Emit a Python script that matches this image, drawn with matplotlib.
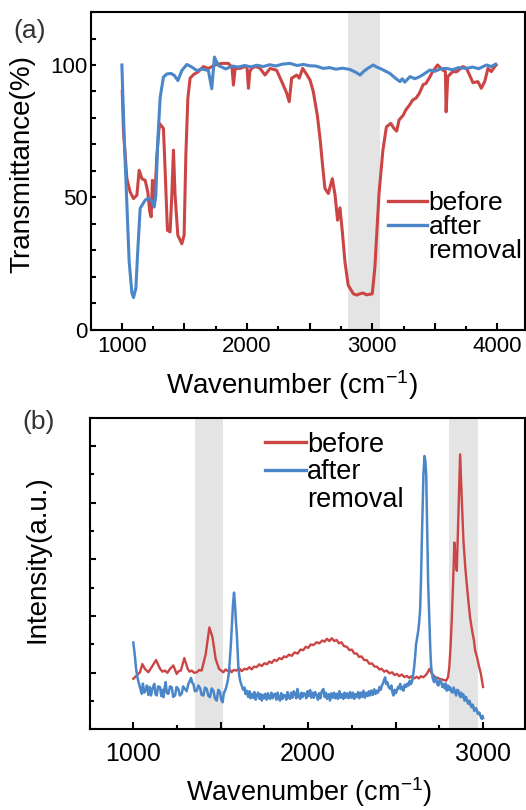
#!/usr/bin/env python3
"""FTIR (a) and Raman (b) spectra, before / after removal."""
import matplotlib
matplotlib.use('Agg')
import matplotlib.pyplot as plt
from matplotlib.lines import Line2D
from matplotlib.ticker import MultipleLocator, FuncFormatter

RED = '#cc4545'
BLUE = '#4a86c8'
BAND = '#e3e4e3'

# ---- (a) FTIR ----
ftir_wn_before = [1003, 1013, 1040, 1066, 1093, 1120, 1138, 1160, 1186, 1207, 1223, 1234, 1244, 1260,
                  1280, 1300, 1332, 1346, 1364, 1385, 1399, 1412, 1425, 1447, 1479, 1497, 1511, 1527,
                  1545, 1571, 1611, 1651, 1691, 1745, 1798, 1851, 1880, 1891, 1905, 1944, 1990, 2000,
                  2011, 2022, 2036, 2070, 2104, 2143, 2184, 2236, 2277, 2312, 2337, 2356, 2397, 2417,
                  2444, 2471, 2503, 2529, 2561, 2583, 2603, 2622, 2649, 2663, 2681, 2703, 2723, 2742,
                  2761, 2782, 2808, 2849, 2875, 2901, 2925, 2955, 3000, 3021, 3054, 3085, 3113, 3148,
                  3174, 3195, 3214, 3247, 3268, 3300, 3322, 3350, 3375, 3407, 3429, 3460, 3482, 3522,
                  3563, 3584, 3590, 3603, 3643, 3673, 3724, 3753, 3777, 3804, 3833, 3844, 3871, 3898,
                  3924, 3951, 3978, 3990]
ftir_t_before = [90, 74.7, 57, 52, 49.5, 50.8, 60.2, 57, 56.4, 52, 44.4, 42.6, 56.4, 48,
                 66, 77.9, 76, 59.5, 37.5, 36.9, 50.8, 67.8, 50.8, 35.6, 32.4, 35.6, 66, 87.4,
                 95, 96.3, 97.5, 99.4, 98.7, 100, 100.6, 100.6, 99, 92.4, 98.7, 98.7, 99.5, 98.8,
                 91.2, 97.5, 98.7, 99.5, 98.7, 96.2, 98.7, 98, 93.7, 89.9, 86.1, 95, 96.2, 95,
                 98.7, 96.8, 94.3, 89.9, 81, 72.2, 62.1, 53.3, 51.4, 53.9, 57, 50.8, 41.3, 46,
                 36.9, 25.5, 16.7, 13.5, 13.0, 13.5, 13.8, 13.1, 13.5, 23.6, 51.4, 67.8, 76.6, 77.9,
                 76, 75, 79.2, 81, 83, 85, 86.7, 87.5, 89.2, 92.6, 93, 95.5, 97.5, 100,
                 98.1, 97.5, 82.3, 95.6, 97.5, 97.4, 99.4, 98.7, 96.2, 93.3, 93.6, 93.7, 91.2, 93.7,
                 98.7, 97.5, 99.4, 100]

ftir_wn_after = [1000, 1010, 1021, 1040, 1058, 1080, 1093, 1112, 1125, 1146, 1186, 1212, 1239, 1258,
                 1271, 1287, 1306, 1332, 1359, 1393, 1420, 1447, 1479, 1519, 1559, 1599, 1638, 1691,
                 1718, 1739, 1771, 1830, 1880, 1930, 1980, 2030, 2080, 2130, 2180, 2230, 2280, 2343,
                 2400, 2450, 2500, 2550, 2609, 2660, 2710, 2760, 2822, 2870, 2902, 2930, 2960, 3008,
                 3035, 3062, 3100, 3141, 3180, 3221, 3240, 3260, 3301, 3340, 3380, 3420, 3460, 3500,
                 3550, 3593, 3640, 3690, 3753, 3800, 3850, 3913, 3950, 3985]
ftir_t_after = [100, 85, 70, 47.3, 25.8, 13.8, 12.1, 15.6, 28.2, 45.8, 48.9, 49.6, 48.5, 46.3,
                50.5, 71.6, 87.8, 95.4, 96.6, 96.8, 96, 94.1, 97.9, 100.2, 99.2, 97.9, 98.5, 97.9,
                91, 103, 99.8, 98.5, 99.6, 99.2, 99.8, 99.3, 99.9, 99.4, 100.1, 99.6, 100.3, 100.6,
                99.8, 100.2, 99.7, 99.6, 98.7, 99.0, 98.4, 98.8, 98.3, 97.2, 96.2, 97.5, 98.6, 100,
                99.2, 98.7, 97.8, 96.8, 95.2, 93.7, 94.8, 93.5, 95.6, 94.8, 95.6, 96.8, 98.1, 97.6,
                98.6, 98.7, 98.2, 99.0, 98.7, 99.2, 98.6, 100, 99.4, 100.3]

# ---- (b) Raman, (wavenumber, intensity) pairs ----
raman_before = [
    (1000, 1.79), (1019, 1.90), (1038, 2.02), (1052, 2.31), (1066, 2.14), (1086, 2.02), (1105, 2.20),
    (1130, 2.45), (1153, 2.14), (1167, 2.04), (1181, 2.08), (1195, 2.00), (1210, 2.14), (1229, 2.26),
    (1248, 1.96), (1260, 2.06), (1272, 2.08), (1292, 2.52), (1311, 2.14), (1322, 2.04), (1334, 2.08),
    (1348, 2.00), (1363, 2.02), (1377, 2.10), (1391, 2.08), (1414, 2.66), (1435, 3.60), (1453, 3.25),
    (1471, 2.49), (1490, 2.14), (1502, 2.08), (1515, 2.02), (1528, 2.12), (1540, 2.06), (1551, 2.12),
    (1562, 2.02), (1575, 2.10), (1590, 2.08), (1605, 2.16), (1620, 2.06), (1635, 2.14), (1650, 2.12),
    (1663, 2.20), (1677, 2.12), (1690, 2.22), (1705, 2.20), (1720, 2.30), (1735, 2.24), (1750, 2.34),
    (1765, 2.30), (1778, 2.40), (1792, 2.35), (1806, 2.46), (1820, 2.42), (1835, 2.52), (1849, 2.48),
    (1862, 2.58), (1875, 2.55), (1890, 2.64), (1906, 2.60), (1922, 2.72), (1940, 2.68), (1956, 2.82),
    (1972, 2.80), (1986, 2.92), (2000, 2.88), (2015, 3.00), (2030, 2.98), (2049, 3.08), (2064, 3.04),
    (2080, 3.14), (2094, 3.10), (2107, 3.20), (2121, 3.12), (2135, 3.22), (2149, 3.12), (2163, 3.16),
    (2176, 3.04), (2190, 3.08), (2205, 2.94), (2221, 2.92), (2236, 2.80), (2250, 2.82), (2264, 2.68),
    (2278, 2.68), (2291, 2.56), (2305, 2.58), (2320, 2.45), (2335, 2.45), (2350, 2.32), (2365, 2.33),
    (2380, 2.22), (2393, 2.22), (2407, 2.12), (2420, 2.14), (2435, 2.04), (2449, 2.08), (2465, 1.98),
    (2480, 2.02), (2494, 1.92), (2507, 1.96), (2521, 1.88), (2535, 1.94), (2550, 1.85), (2564, 1.89),
    (2578, 1.82), (2590, 1.88), (2605, 1.80), (2621, 1.86), (2632, 1.80), (2645, 1.88), (2659, 1.84),
    (2672, 1.92), (2680, 1.98), (2694, 2.14), (2705, 2.00), (2717, 1.90), (2730, 1.84), (2742, 1.82),
    (2755, 1.78), (2770, 1.76), (2789, 1.72), (2800, 1.85), (2807, 2.20), (2814, 2.90), (2821, 3.84),
    (2829, 5.20), (2836, 6.60), (2843, 6.00), (2850, 5.60), (2860, 7.80), (2869, 9.71), (2878, 8.20),
    (2888, 6.65), (2900, 5.60), (2916, 4.54), (2926, 3.95), (2940, 3.40), (2948, 3.15), (2955, 2.78),
    (2966, 2.55), (2974, 2.31), (2988, 1.95), (3000, 1.50),
]

raman_after = [
    (1000, 3.07), (1005, 2.80), (1010, 2.55), (1015, 2.20), (1019, 2.02), (1025, 1.80), (1033, 1.61),
    (1040, 1.45), (1048, 1.26), (1055, 1.62), (1062, 1.30), (1071, 1.40), (1078, 1.55), (1086, 1.22),
    (1094, 1.50), (1101, 1.20), (1110, 1.45), (1120, 1.61), (1127, 1.25), (1134, 1.20), (1142, 1.52),
    (1153, 1.49), (1160, 1.18), (1168, 1.40), (1172, 1.14), (1180, 1.50), (1185, 1.67), (1192, 1.28),
    (1201, 1.26), (1210, 1.52), (1220, 1.49), (1228, 1.15), (1239, 1.20), (1247, 1.50), (1258, 1.43),
    (1266, 1.20), (1277, 1.26), (1285, 1.52), (1296, 1.43), (1305, 1.35), (1315, 1.61), (1322, 1.70),
    (1330, 1.82), (1337, 1.65), (1344, 1.61), (1352, 1.35), (1363, 1.37), (1372, 1.55), (1382, 1.46),
    (1391, 1.22), (1401, 1.20), (1410, 1.48), (1420, 1.43), (1430, 1.18), (1439, 1.14), (1448, 1.45),
    (1458, 1.37), (1467, 1.10), (1477, 1.02), (1486, 1.40), (1496, 1.32), (1503, 1.05), (1511, 0.96),
    (1518, 1.30), (1525, 1.37), (1532, 1.50), (1540, 1.72), (1547, 2.00), (1553, 2.55), (1558, 3.00),
    (1563, 3.60), (1570, 4.40), (1576, 4.83), (1582, 4.40), (1587, 3.80), (1592, 3.37), (1597, 2.70),
    (1601, 2.19), (1606, 1.90), (1612, 1.70), (1620, 1.55), (1628, 1.40), (1636, 1.48), (1642, 1.25),
    (1649, 1.37), (1657, 1.15), (1664, 1.35), (1670, 1.10), (1677, 1.26), (1685, 1.12), (1692, 1.32),
    (1700, 1.05), (1706, 1.20), (1714, 1.30), (1722, 1.08), (1728, 1.25), (1735, 1.02), (1742, 1.22),
    (1748, 1.10), (1754, 1.26), (1762, 1.05), (1770, 1.28), (1776, 1.12), (1782, 1.08), (1790, 1.30),
    (1797, 1.10), (1804, 1.24), (1811, 1.26), (1818, 1.05), (1825, 1.30), (1832, 1.12), (1839, 1.02),
    (1846, 1.28), (1853, 1.08), (1860, 1.22), (1868, 1.20), (1875, 1.05), (1882, 1.32), (1889, 1.15),
    (1896, 1.08), (1903, 1.30), (1910, 1.12), (1918, 1.35), (1925, 1.26), (1932, 1.10), (1939, 1.43),
    (1946, 1.18), (1954, 1.08), (1961, 1.30), (1968, 1.14), (1975, 1.28), (1982, 1.26), (1989, 1.10),
    (1996, 1.35), (2003, 1.18), (2011, 1.39), (2018, 1.12), (2025, 1.30), (2032, 1.12), (2040, 1.32),
    (2049, 1.20), (2056, 1.05), (2063, 1.28), (2070, 1.10), (2078, 1.35), (2087, 1.43), (2094, 1.15),
    (2100, 1.30), (2108, 1.08), (2116, 1.25), (2125, 1.02), (2132, 1.28), (2140, 1.12), (2148, 1.30),
    (2155, 1.10), (2163, 1.26), (2170, 1.08), (2178, 1.35), (2185, 1.12), (2193, 1.25), (2201, 1.08),
    (2208, 1.30), (2216, 1.12), (2224, 1.28), (2232, 1.10), (2240, 1.32), (2248, 1.12), (2256, 1.30),
    (2263, 1.08), (2271, 1.25), (2278, 1.14), (2286, 1.32), (2293, 1.10), (2301, 1.30), (2308, 1.15),
    (2316, 1.37), (2324, 1.12), (2332, 1.30), (2340, 1.18), (2347, 1.35), (2354, 1.20), (2362, 1.38),
    (2370, 1.22), (2378, 1.42), (2386, 1.25), (2392, 1.37), (2400, 1.30), (2408, 1.50), (2415, 1.40),
    (2421, 1.55), (2428, 1.62), (2434, 1.75), (2440, 1.84), (2447, 1.60), (2453, 1.67), (2460, 1.50),
    (2469, 1.43), (2476, 1.55), (2482, 1.30), (2488, 1.20), (2495, 1.40), (2501, 1.28), (2507, 1.37),
    (2514, 1.50), (2520, 1.45), (2526, 1.61), (2532, 1.42), (2539, 1.50), (2545, 1.37), (2552, 1.58),
    (2560, 1.50), (2567, 1.62), (2574, 1.55), (2581, 1.72), (2587, 1.60), (2593, 1.67), (2600, 1.90),
    (2606, 2.19), (2612, 2.60), (2617, 3.00), (2625, 3.30), (2630, 3.50), (2635, 3.80), (2640, 4.20),
    (2645, 5.20), (2650, 6.65), (2655, 7.90), (2659, 8.97), (2665, 9.65), (2670, 9.50), (2675, 9.00),
    (2678, 8.00), (2682, 6.65), (2686, 5.20), (2690, 4.40), (2693, 3.84), (2697, 3.10), (2700, 2.60),
    (2703, 2.25), (2707, 2.01), (2713, 1.80), (2720, 1.67), (2726, 1.85), (2732, 1.80), (2738, 1.60),
    (2745, 1.55), (2752, 1.75), (2760, 1.70), (2767, 1.50), (2774, 1.61), (2781, 1.45), (2787, 1.62),
    (2793, 1.37), (2800, 1.55), (2806, 1.40), (2812, 1.49), (2818, 1.35), (2825, 1.30), (2832, 1.48),
    (2840, 1.32), (2846, 1.20), (2852, 1.40), (2859, 1.37), (2865, 1.22), (2870, 1.15), (2875, 1.30),
    (2879, 1.14), (2885, 1.25), (2890, 1.20), (2894, 1.02), (2898, 1.08), (2903, 1.15), (2908, 1.00),
    (2912, 0.95), (2917, 0.90), (2921, 1.02), (2926, 0.95), (2931, 0.82), (2936, 0.78), (2940, 0.88),
    (2945, 0.80), (2950, 0.65), (2955, 0.72), (2960, 0.75), (2965, 0.68), (2970, 0.55), (2974, 0.55),
    (2979, 0.60), (2983, 0.52), (2988, 0.42), (2993, 0.38), (2997, 0.48), (3000, 0.40),
]

ftir_bands = [(2806, 3062)]
raman_bands = [(1353, 1515), (2808, 2973)]
labels = ['before', 'after', 'removal']

plt.rcParams['font.family'] = ['Liberation Sans', 'DejaVu Sans']
plt.rcParams['mathtext.default'] = 'regular'


def thousands(v, pos):
    return f'{int(v)}' if v % 1000 == 0 else ''


def style_axes(ax, xlab_size):
    for s in ax.spines.values():
        s.set_linewidth(1.5)
    ax.xaxis.set_major_locator(MultipleLocator(500))
    ax.xaxis.set_minor_locator(MultipleLocator(250))
    ax.xaxis.set_major_formatter(FuncFormatter(thousands))
    ax.tick_params(axis='x', which='major', direction='in', length=5, width=1.5,
                   labelsize=xlab_size)
    ax.tick_params(axis='x', which='minor', direction='in', length=3, width=1.5)


def add_legend(ax, anchor, size, spacing):
    handles = [Line2D([], [], color=RED, lw=2.4),
               Line2D([], [], color=BLUE, lw=2.4),
               Line2D([], [], color='none')]
    ax.legend(handles, labels, loc='upper left', bbox_to_anchor=anchor, frameon=False,
              fontsize=size, handlelength=1.5, handletextpad=0.05, labelspacing=spacing,
              borderpad=0, borderaxespad=0)


fig = plt.figure(figsize=(5.26, 8.10), dpi=100)

# (a)
ax1 = fig.add_axes([0.1722, 0.5932, 0.8259, 0.3919])
for lo, hi in ftir_bands:
    ax1.axvspan(lo, hi, color=BAND, lw=0, zorder=0)
ax1.plot(ftir_wn_before, ftir_t_before, color=RED, lw=2.2)
ax1.plot(ftir_wn_after, ftir_t_after, color=BLUE, lw=2.2)
ax1.set_xlim(750, 4220)
ax1.set_ylim(0, 120)
style_axes(ax1, 16)
ax1.yaxis.set_major_locator(MultipleLocator(50))
ax1.yaxis.set_minor_locator(MultipleLocator(10))
ax1.tick_params(axis='y', which='both', direction='in', length=3.6, width=1.5,
                labelsize=16, pad=2)
ax1.tick_params(axis='x', which='major', pad=5)
ax1.set_xlabel('Wavenumber (cm$^{-1}$)', fontsize=20)
ax1.xaxis.set_label_coords(0.463, -0.121)
ax1.set_ylabel('Transmittance(%)', fontsize=20)
ax1.yaxis.set_label_coords(-0.126, 0.52)
add_legend(ax1, (0.684, 0.435), 19, 0.0)

# (b)
raman_wn_before = [p[0] for p in raman_before]
raman_i_before = [p[1] for p in raman_before]
raman_wn_after = [p[0] for p in raman_after]
raman_i_after = [p[1] for p in raman_after]

ax2 = fig.add_axes([0.1703, 0.0994, 0.8278, 0.3848])
for lo, hi in raman_bands:
    ax2.axvspan(lo, hi, color=BAND, lw=0, zorder=0)
ax2.plot(raman_wn_before, raman_i_before, color=RED, lw=1.7)
ax2.plot(raman_wn_after, raman_i_after, color=BLUE, lw=1.8)
ax2.set_xlim(750, 3240)
ax2.set_ylim(0, 11)
style_axes(ax2, 18)
ax2.tick_params(axis='x', which='major', pad=9)
ax2.yaxis.set_major_locator(MultipleLocator(2))
ax2.yaxis.set_minor_locator(MultipleLocator(1))
ax2.tick_params(axis='y', which='major', direction='in', length=4.5, width=1.5, labelleft=False)
ax2.tick_params(axis='y', which='minor', direction='in', length=3, width=1.5)
ax2.set_xlabel('Wavenumber (cm$^{-1}$)', fontsize=19.5)
ax2.xaxis.set_label_coords(0.5046, -0.148)
ax2.set_ylabel('Intensity(a.u.)', fontsize=20)
ax2.yaxis.set_label_coords(-0.090, 0.546)
add_legend(ax2, (0.403, 0.955), 19.5, 0.05)

fig.text(0.0247, 0.9617, '(a)', fontsize=19, color='#333333', va='center', ha='left')
fig.text(0.0418, 0.4784, '(b)', fontsize=19, color='#333333', va='center', ha='left')

fig.savefig('out.png', dpi=100)
